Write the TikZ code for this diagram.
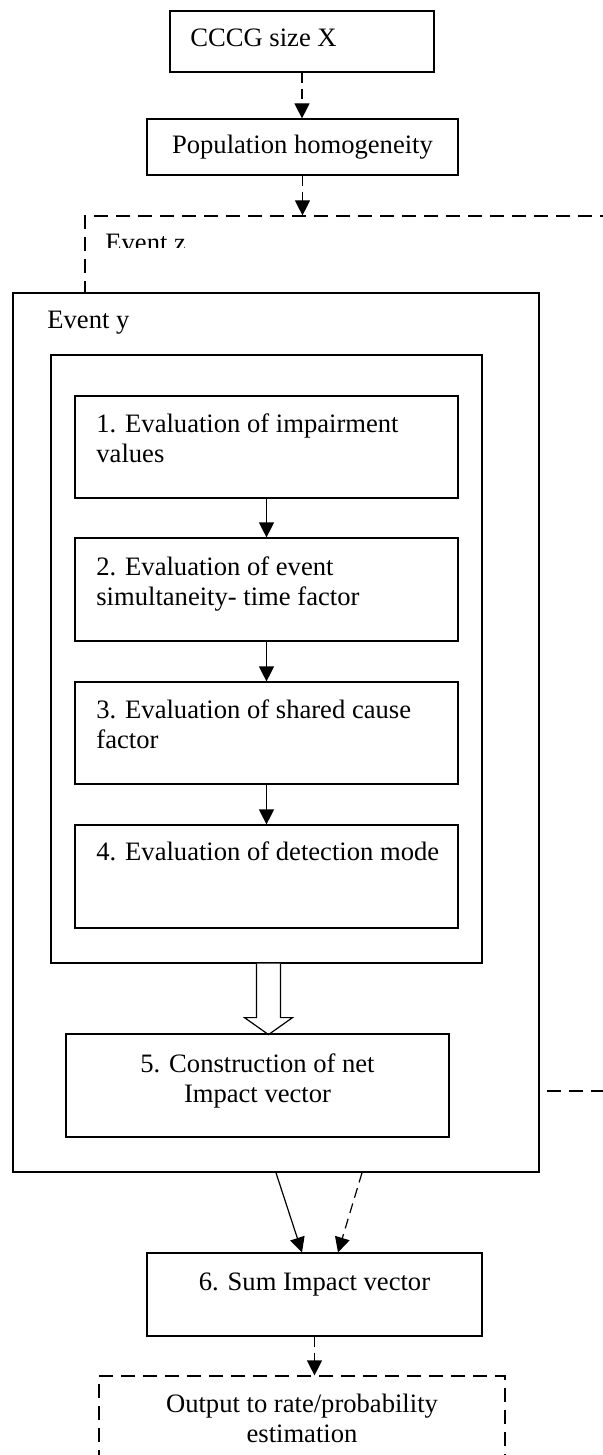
\documentclass[tikz,border=0pt]{standalone}
\usepackage{fontspec}
\setmainfont{Liberation Serif}
\usetikzlibrary{arrows.meta,calc,fit,positioning}

\tikzset{
  box/.style={draw, line width=0.6pt, inner sep=0pt},
  dbox/.style={box, dash pattern=on 7pt off 4pt},
  txt/.style={inner sep=0pt, align=left, font=\fontsize{13.3}{15}\selectfont},
  ctxt/.style={txt, align=center},
  flow/.style={-{Triangle[length=7.5pt,width=7.5pt]}, line width=0.6pt},
  dflow/.style={flow, dash pattern=on 5pt off 3pt},
}

\begin{document}
\begin{tikzpicture}[x=0.5pt,y=-0.5pt]
  \useasboundingbox (0,0) rectangle (603,1455);
  \clip (0,0) rectangle (603,1455);

  % group size and homogeneity
  \node[box, fit={(170,11) (434,72)}] (cccg) {};
  \node[txt, anchor=base west] (cccgt) at (190,47) {CCCG size X};
  \node[box, fit={(147,119) (458,175)}] (pop) {};
  \node[txt] (popt) at (pop.center) {Population homogeneity};
  \draw[dflow] (cccg.south) -- (cccg.south |- pop.north);

  % event z (dashed, runs behind event y)
  \node[dbox, fit={(85,216) (660,1091)}] (ez) {};
  \begin{scope}
    \clip (85,216) rectangle (400,248);
    \node[txt, anchor=base west] (ezt) at (105,251) {Event z};
  \end{scope}
  \draw[dflow] (pop.south) -- (pop.south |- ez.north);

  % event y with steps 1-4 (base = last line)
  \node[box, line width=0.8pt, fill=white, fit={(13,293) (539,1172)}] (ey) {};
  \node[txt, anchor=base west] (eyt) at (47,328) {Event y};
  \node[box, fit={(51,355) (482,963)}] (steps) {};

  \node[box, fit={(75,396) (458,498)}] (s1) {};
  \node[txt, anchor=base west] (s1t) at (96,462) {1. Evaluation of impairment\\values};
  \node[box, fit={(75,538) (458,641)}] (s2) {};
  \node[txt, anchor=base west] (s2t) at (96,605) {2. Evaluation of event\\simultaneity- time factor};
  \node[box, fit={(75,682) (458,784)}] (s3) {};
  \node[txt, anchor=base west] (s3t) at (96,748) {3. Evaluation of shared cause\\factor};
  \node[box, fit={(75,825) (458,928)}] (s4) {};
  \node[txt, anchor=base west] (s4t) at (96,860) {4. Evaluation of detection mode};
  \foreach \a/\b in {s1/s2,s2/s3,s3/s4}
    \draw[flow] (\a) -- (\b);

  % hollow arrow into step 5
  \draw[line width=0.6pt, fill=white] ($(steps.south)+(-10,0)$) -- ++(0,54) -- ++(-12,0)
    -- ++(24,17) -- ++(24,-17) -- ++(-12,0) -- ++(0,-54);
  \node[box, fit={(66,1034) (449,1137)}] (s5) {};
  \node[ctxt, anchor=base] (s5t) at (257.5,1102) {5. Construction of net\\Impact vector};

  % sum and output
  \node[box, fit={(147,1253) (482,1336)}] (s6) {};
  \node[ctxt, anchor=base] (s6t) at (314.5,1290) {6. Sum Impact vector};
  \draw[flow] (ey.south) -- ($(s6.north)+(-12.5,0)$);
  \draw[dflow] ($(ey.south)+(86,0)$) -- ($(s6.north)+(23.5,0)$);
  \node[dbox, fit={(99,1376) (505,1480)}] (out) {};
  \node[ctxt, anchor=base] (outt) at (302,1442) {Output to rate/probability\\estimation};
  \draw[dflow] (s6.south) -- (s6.south |- out.north);
\end{tikzpicture}
\end{document}
